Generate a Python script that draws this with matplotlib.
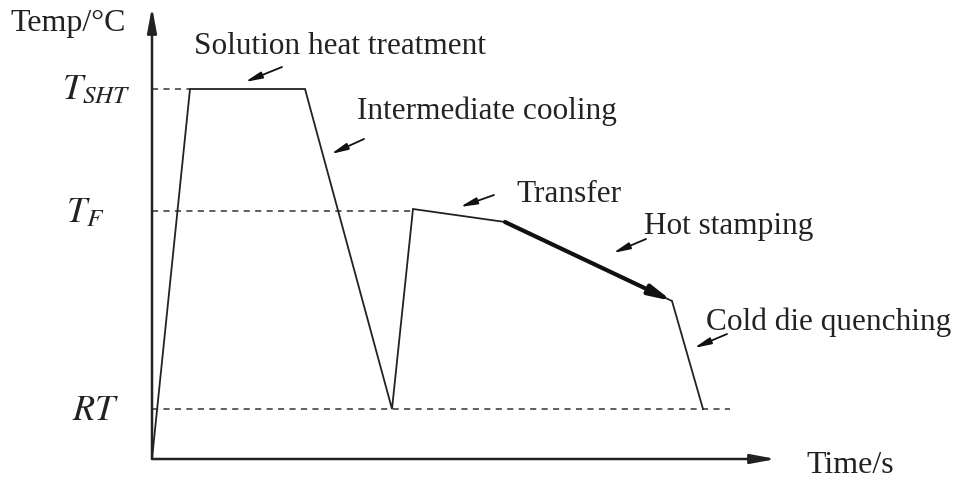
import matplotlib
matplotlib.use("Agg")
import matplotlib.pyplot as plt

plt.rcParams['font.family'] = ['Liberation Serif', 'DejaVu Serif']
plt.rcParams['mathtext.fontset'] = 'stix'

# Process curve (time units / temperature units)
time = [0, 38, 153, 240, 261, 353, 520, 551]
temp = [0, 370, 370, 50, 250, 237, 158, 50]

# Reference levels
level_names = [r'$T_{SHT}$', r'$T_F$', r'$RT$']
level_values = [370, 248, 50]
level_ends = [38, 261, 578]
level_label_x = [-90, -86, -80]
level_label_y = [369, 246, 48]

# Stage annotations: label, label position, arrow tail, arrow head
stage_labels = ['Solution heat treatment', 'Intermediate cooling', 'Transfer',
                'Hot stamping', 'Cold die quenching']
stage_text_xy = [(42, 414), (205, 349), (364, 265), (492, 233), (554, 138)]
stage_tail = [(130, 392), (212, 320), (342, 264), (494, 220), (575, 125)]
stage_head = [(93, 377), (179, 305), (308, 252), (461, 206), (542, 111)]

W, H = 958, 481
fig = plt.figure(figsize=(W / 100, H / 100), dpi=100)
ax = fig.add_axes([152 / W, 21 / H, (W - 152) / W, 460 / H])
ax.set_xlim(0, W - 152)
ax.set_ylim(0, 460)
ax.axis('off')

# Axes with arrows
ax.annotate('', xy=(0, 452), xytext=(0, 0),
            arrowprops=dict(arrowstyle='-|>,head_length=1.5,head_width=0.28',
                            color='#222222', lw=1.8, shrinkA=0, shrinkB=0),
            annotation_clip=False)
ax.annotate('', xy=(624, 0), xytext=(0, 0),
            arrowprops=dict(arrowstyle='-|>,head_length=1.5,head_width=0.28',
                            color='#222222', lw=1.8, shrinkA=0, shrinkB=0),
            annotation_clip=False)

# Dashed reference lines
for v, e in zip(level_values, level_ends):
    ax.plot([0, e], [v, v], color='#333333', lw=1.1, ls=(0, (4, 3.5)), clip_on=False)

# Curve
ax.plot(time, temp, color='#222222', lw=1.3, clip_on=False, solid_joinstyle='miter')

# Hot stamping thick arrow along segment
ax.annotate('', xy=(time[6], temp[6]), xytext=(time[5], temp[5]),
            arrowprops=dict(arrowstyle='-|>,head_length=1.3,head_width=0.3',
                            color='#111111', lw=3.0, shrinkA=0, shrinkB=0),
            annotation_clip=False)

# Level labels
for name, ly, lx in zip(level_names, level_label_y, level_label_x):
    ax.text(lx, ly, name, fontsize=26, ha='left', va='center', color='#222222')

# Axis labels
ax.text(-84, 437, 'Temp/°C', fontsize=23, ha='center', va='center', color='#222222')
ax.text(654, -13, 'Time/s', fontsize=23, ha='left', va='baseline', color='#222222')

# Stage labels and arrows
for lab, (tx, ty), tail, head in zip(stage_labels, stage_text_xy, stage_tail, stage_head):
    ax.text(tx, ty, lab, fontsize=22.5, ha='left', va='center', color='#222222')
    ax.annotate('', xy=head, xytext=tail,
                arrowprops=dict(arrowstyle='-|>,head_length=1.0,head_width=0.2',
                                color='#111111', lw=1.3, shrinkA=0, shrinkB=0),
                annotation_clip=False)

fig.savefig('out.png', dpi=100)
